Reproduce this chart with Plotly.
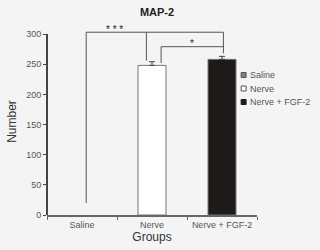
import plotly.graph_objects as go

categories = ["Saline", "Nerve", "Nerve + FGF-2"]
values = [0, 248, 258]
errors = [float("nan"), 6, 5]
bar_colors = ["#7f7f7f", "#ffffff", "#1e1a1a"]
y_ticks = [0, 50, 100, 150, 200, 250, 300]

FONT = "Liberation Sans, Arial, sans-serif"
BG = "#f4f4f4"

fig = go.Figure()
fig.add_trace(go.Bar(
    x=categories, y=values, width=0.4,
    marker=dict(color=bar_colors, line=dict(color="#777777", width=[0, 1, 1])),
    showlegend=False,
))
# error bars (only for bars with an error value)
err_x = [c for c, e in zip(categories, errors) if e == e]
err_y = [v for v, e in zip(values, errors) if e == e]
err_v = [e for e in errors if e == e]
fig.add_trace(go.Scatter(
    x=err_x, y=err_y, mode="markers", marker=dict(size=0.1, opacity=0),
    error_y=dict(type="data", array=err_v, symmetric=False, arrayminus=[0] * len(err_v),
                 color="#444444", thickness=1, width=3),
    showlegend=False, hoverinfo="skip",
))

# significance brackets
line = dict(color="#555555", width=1)

fig.add_shape(type="path", xref="x", yref="y",
              path="M 0.06,20 L 0.06,303 L 2.02,303 L 2.02,268", line=line)
fig.add_shape(type="line", xref="x", yref="y", x0=0.92, y0=303, x1=0.92, y1=256, line=line)
fig.add_shape(type="path", xref="x", yref="y",
              path="M 1.13,252 L 1.13,279 L 2.02,279", line=line)

fig.add_annotation(x=0.46, y=308, xref="x", yref="y", text="* * *", showarrow=False,
                   font=dict(family=FONT, size=10, color="#222222"), yanchor="middle")
fig.add_annotation(x=1.57, y=284, xref="x", yref="y", text="*", showarrow=False,
                   font=dict(family=FONT, size=10, color="#222222"), yanchor="middle")

# y axis line drawn only up to 300
fig.add_shape(type="line", xref="paper", yref="y", x0=0, x1=0, y0=0, y1=300,
              line=dict(color="#444444", width=2))

# custom legend
leg_x = 241
leg_items = [("Saline", "#7f7f7f", "#555555", 75),
             ("Nerve", "#ffffff", "#555555", 88.5),
             ("Nerve + FGF-2", "#1e1a1a", "#1e1a1a", 102)]
pl, pr, pt, pb = 45, 63, 28, 35
pw, ph = 320 - pl - pr, 250 - pt - pb
for name, fc, lc, py in leg_items:
    px0 = (leg_x - pl) / pw
    px1 = (leg_x + 5 - pl) / pw
    py0 = 1 - (py - 2.5 - pt) / ph
    py1 = 1 - (py + 2.5 - pt) / ph
    fig.add_shape(type="rect", xref="paper", yref="paper", x0=px0, x1=px1, y0=py1, y1=py0,
                  fillcolor=fc, line=dict(color=lc, width=1))
    fig.add_annotation(x=(leg_x + 7 - pl) / pw, y=1 - (py - pt) / ph, xref="paper", yref="paper",
                       text=name, showarrow=False, xanchor="left", yanchor="middle",
                       font=dict(family=FONT, size=9, color="#555555"))

fig.update_layout(
    width=320, height=250,
    margin=dict(l=pl, r=pr, t=pt, b=pb),
    paper_bgcolor=BG, plot_bgcolor=BG,
    title=dict(text="<b>MAP-2</b>", x=157 / 320, xanchor="center", y=1 - 12 / 250, yanchor="middle",
               font=dict(family=FONT, size=11, color="#222222")),
    font=dict(family=FONT, size=9, color="#555555"),
    bargap=0.6,
)
fig.update_xaxes(
    range=[-0.5, 2.5], showline=True, linecolor="#666666", linewidth=1.5,
    ticks="outside", tickson="boundaries", ticklen=3, tickcolor="#666666",
    showgrid=False, zeroline=False,
    title=dict(text="Groups", font=dict(family=FONT, size=12, color="#333333"), standoff=0),
    tickfont=dict(family=FONT, size=9, color="#555555"),
)
fig.update_yaxes(
    range=[0, 310], showline=False, showgrid=False, zeroline=False,
    tickvals=y_ticks, ticks="outside", ticklen=3, tickcolor="#444444",
    tickfont=dict(family=FONT, size=9, color="#555555"),
    title=dict(text="Number", font=dict(family=FONT, size=12, color="#333333"), standoff=6),
)

fig.write_html("out.html")
